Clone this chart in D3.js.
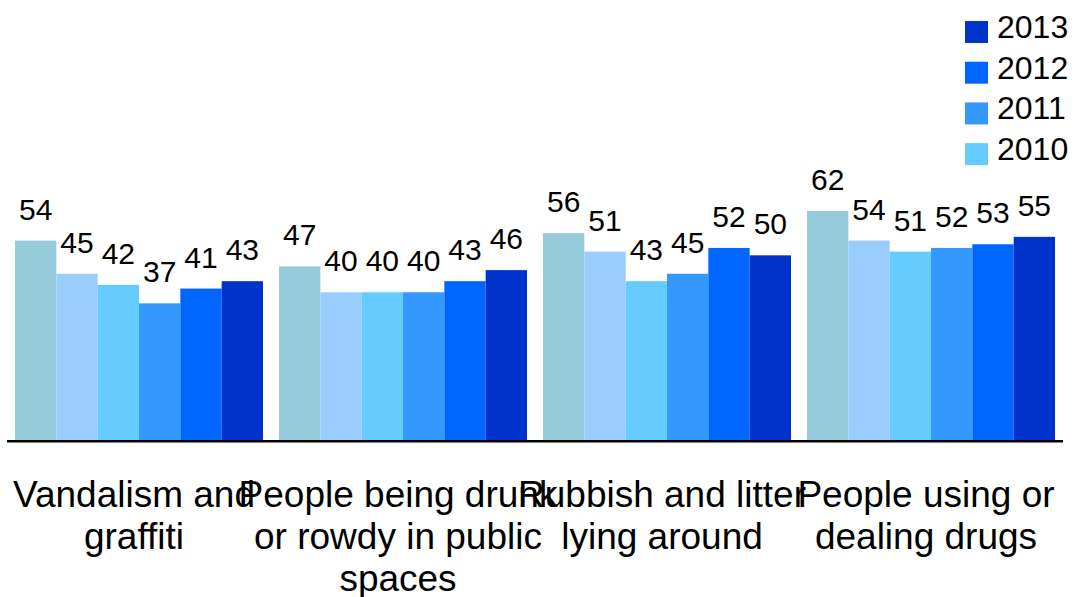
<!DOCTYPE html>
<html>
<head>
<meta charset="utf-8">
<script src="https://cdn.jsdelivr.net/npm/d3@7"></script>
<style>
  html, body { margin: 0; padding: 0; background: #fff; }
  svg { display: block; font-family: "Liberation Sans", Arial, sans-serif; }
</style>
</head>
<body>
<svg id="chart" width="1080" height="597"></svg>
<script>
// Categories, each split into the lines it is written on
const categories = [
  ["Vandalism and", "graffiti"],
  ["People being drunk", "or rowdy in public", "spaces"],
  ["Rubbish and litter", "lying around"],
  ["People using or", "dealing drugs"]
];
const seriesNames = ["2008", "2009", "2010", "2011", "2012", "2013"];
const seriesColors = ["#96CBDC", "#99CCFF", "#66CCFF", "#3399FF", "#0066FF", "#0033CC"];

// Percentages per series, one entry per category
const s2008 = [54, 47, 56, 62];
const s2009 = [45, 40, 51, 54];
const s2010 = [42, 40, 43, 51];
const s2011 = [37, 40, 45, 52];
const s2012 = [41, 43, 52, 53];
const s2013 = [43, 46, 50, 55];
const seriesValues = [s2008, s2009, s2010, s2011, s2012, s2013];

// Legend lists the newest years first
const legendNames = ["2013", "2012", "2011", "2010"];

const svg = d3.select("#chart");
const baseY = 440;

const x0 = d3.scaleBand()
  .domain(d3.range(categories.length))
  .range([7, 1063])
  .paddingInner(16 / 264)
  .paddingOuter(8 / 264);

const x1 = d3.scaleBand()
  .domain(seriesNames)
  .range([0, x0.bandwidth()]);

const y = d3.scaleLinear().domain([0, 62]).range([baseY, 211]);

const color = d3.scaleOrdinal().domain(seriesNames).range(seriesColors);

const rows = categories.map((c, i) => ({
  i,
  vals: seriesNames.map((s, k) => ({ s, v: seriesValues[k][i] }))
}));

const groups = svg.append("g").selectAll("g")
  .data(rows)
  .join("g")
  .attr("transform", d => `translate(${x0(d.i)},0)`);

groups.selectAll("rect")
  .data(d => d.vals)
  .join("rect")
  .attr("x", d => x1(d.s))
  .attr("y", d => y(d.v))
  .attr("width", x1.bandwidth())
  .attr("height", d => baseY - y(d.v))
  .attr("fill", d => color(d.s));

groups.selectAll("text")
  .data(d => d.vals)
  .join("text")
  .attr("x", d => x1(d.s) + x1.bandwidth() / 2)
  .attr("y", d => y(d.v) - 21)
  .attr("text-anchor", "middle")
  .attr("font-size", 30)
  .attr("fill", "#000")
  .text(d => d.v);

// Baseline axis
svg.append("line")
  .attr("x1", 7).attr("x2", 1063)
  .attr("y1", baseY + 1.3).attr("y2", baseY + 1.3)
  .attr("stroke", "#000")
  .attr("stroke-width", 2.6);

// Category labels
const catLabels = svg.append("g").selectAll("text")
  .data(categories)
  .join("text")
  .attr("text-anchor", "middle")
  .attr("font-size", 37)
  .attr("fill", "#000");

catLabels.each(function (lines, i) {
  const cx = x0(i) + x0.bandwidth() / 2 - 5;
  d3.select(this).selectAll("tspan")
    .data(lines)
    .join("tspan")
    .attr("x", cx)
    .attr("y", (d, k) => 507 + k * 42)
    .text(d => d);
});

// Legend
const legend = svg.append("g").selectAll("g")
  .data(legendNames)
  .join("g")
  .attr("transform", (d, k) => `translate(965,${21 + k * 40.7})`);

legend.append("rect")
  .attr("width", 23)
  .attr("height", 22)
  .attr("fill", d => color(d));

legend.append("text")
  .attr("x", 32)
  .attr("y", 17)
  .attr("font-size", 32)
  .attr("fill", "#000")
  .text(d => d);
</script>
</body>
</html>
